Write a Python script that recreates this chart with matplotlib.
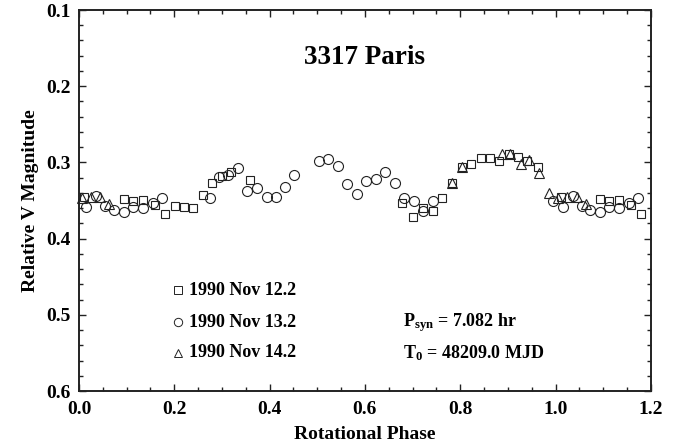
import numpy as np
import matplotlib
matplotlib.use("Agg")
import matplotlib.pyplot as plt
from matplotlib.ticker import MultipleLocator, FormatStrFormatter

plt.rcParams.update({
    'font.family': 'Liberation Serif',
    'font.weight': 'bold',
    'mathtext.fontset': 'custom',
    'mathtext.rm': 'Liberation Serif:bold',
    'mathtext.it': 'Liberation Serif:bold',
    'mathtext.bf': 'Liberation Serif:bold',
})

# 1990 Nov 12.2 (squares)
sq_phase = [0.011, 0.094, 0.113, 0.134, 0.159, 0.180, 0.201, 0.220, 0.239, 0.260,
            0.279, 0.300, 0.319, 0.359, 0.678, 0.701, 0.722, 0.743, 0.762, 0.783,
            0.804, 0.822, 0.843, 0.862, 0.881, 0.902, 0.921, 0.940, 0.963]
sq_mag = [0.345, 0.348, 0.351, 0.349, 0.356, 0.368, 0.357, 0.359, 0.360, 0.343,
          0.327, 0.318, 0.313, 0.323, 0.353, 0.372, 0.360, 0.364, 0.347, 0.327,
          0.306, 0.302, 0.294, 0.294, 0.298, 0.289, 0.293, 0.298, 0.306]

# 1990 Nov 13.2 (circles)
ci_phase = [0.015, 0.036, 0.055, 0.073, 0.094, 0.113, 0.134, 0.155, 0.174, 0.275,
            0.294, 0.313, 0.334, 0.352, 0.373, 0.394, 0.413, 0.432, 0.451, 0.504,
            0.522, 0.543, 0.562, 0.583, 0.602, 0.623, 0.642, 0.663, 0.682, 0.703,
            0.722, 0.743, 0.994]
ci_mag = [0.358, 0.344, 0.357, 0.362, 0.365, 0.358, 0.360, 0.353, 0.347, 0.347,
          0.319, 0.316, 0.307, 0.337, 0.334, 0.345, 0.345, 0.332, 0.316, 0.298,
          0.295, 0.305, 0.328, 0.341, 0.324, 0.322, 0.313, 0.327, 0.347, 0.351,
          0.364, 0.351, 0.351]

# 1990 Nov 14.2 (triangles)
tr_phase = [0.006, 0.025, 0.044, 0.063, 0.782, 0.803, 0.887, 0.904, 0.927, 0.944,
            0.965, 0.986]
tr_mag = [0.347, 0.345, 0.345, 0.355, 0.327, 0.306, 0.289, 0.289, 0.302, 0.297,
          0.314, 0.340]

legend_labels = ['1990 Nov 12.2', '1990 Nov 13.2', '1990 Nov 14.2']

fig = plt.figure(figsize=(6.78, 4.45), dpi=100)
ax = fig.add_axes([0.1165, 0.1213, 0.8435, 0.8562])


def plot_set(phase, mag, marker, ms):
    phase = np.array(phase)
    mag = np.array(mag)
    # repeat the start of the cycle past phase 1.0
    wrap = phase + 1 <= 1.2
    x = np.concatenate([phase, phase[wrap] + 1])
    y = np.concatenate([mag, mag[wrap]])
    ax.plot(x, y, linestyle='none', marker=marker, ms=ms, mfc='none',
            mec='#222222', mew=0.8, clip_on=False)


plot_set(sq_phase, sq_mag, 's', 6.2)
plot_set(ci_phase, ci_mag, 'o', 7.2)
plot_set(tr_phase, tr_mag, '^', 7)

ax.set_xlim(0, 1.2)
ax.set_ylim(0.6, 0.1)
ax.xaxis.set_major_locator(MultipleLocator(0.2))
ax.xaxis.set_minor_locator(MultipleLocator(0.05))
ax.yaxis.set_major_locator(MultipleLocator(0.1))
ax.yaxis.set_minor_locator(MultipleLocator(0.02))
ax.xaxis.set_major_formatter(FormatStrFormatter('%.1f'))
ax.yaxis.set_major_formatter(FormatStrFormatter('%.1f'))
ax.tick_params(which='both', direction='in', top=True, right=True,
               labelsize=14, width=1.0, color='#222222')
ax.tick_params(which='major', length=5)
ax.tick_params(axis='x', which='major', pad=7)
ax.tick_params(axis='y', which='major', pad=6)
ax.tick_params(which='minor', length=3)
for s in ax.spines.values():
    s.set_linewidth(1.4)
    s.set_color('#222222')

ax.set_xlabel('Rotational Phase', fontsize=14, fontweight='bold', labelpad=6)
ax.set_ylabel('Relative V Magnitude', fontsize=14, fontweight='bold', labelpad=5)

ax.text(0.6, 0.162, '3317 Paris', ha='center', va='center', fontsize=19.5,
        fontweight='bold')

# legend drawn inside the axes like the original
leg_y = [0.4675, 0.5095, 0.55]
leg_mk = ['s', 'o', '^']
leg_ms = [5.5, 6, 6]
for yy, mk, ms, lab in zip(leg_y, leg_mk, leg_ms, legend_labels):
    ax.plot([0.208], [yy], linestyle='none', marker=mk, ms=ms, mfc='none',
            mec='#222222', mew=0.7)
    ax.text(0.23, yy, lab, ha='left', va='center', fontsize=13,
            fontweight='bold')

ax.text(0.68, 0.5095, r'P$_{\mathrm{syn}}$ = 7.082 hr', ha='left', va='center',
        fontsize=13, fontweight='bold')
ax.text(0.68, 0.55, r'T$_{0}$ = 48209.0 MJD', ha='left', va='center',
        fontsize=13, fontweight='bold')

fig.savefig('out.png', dpi=100)
